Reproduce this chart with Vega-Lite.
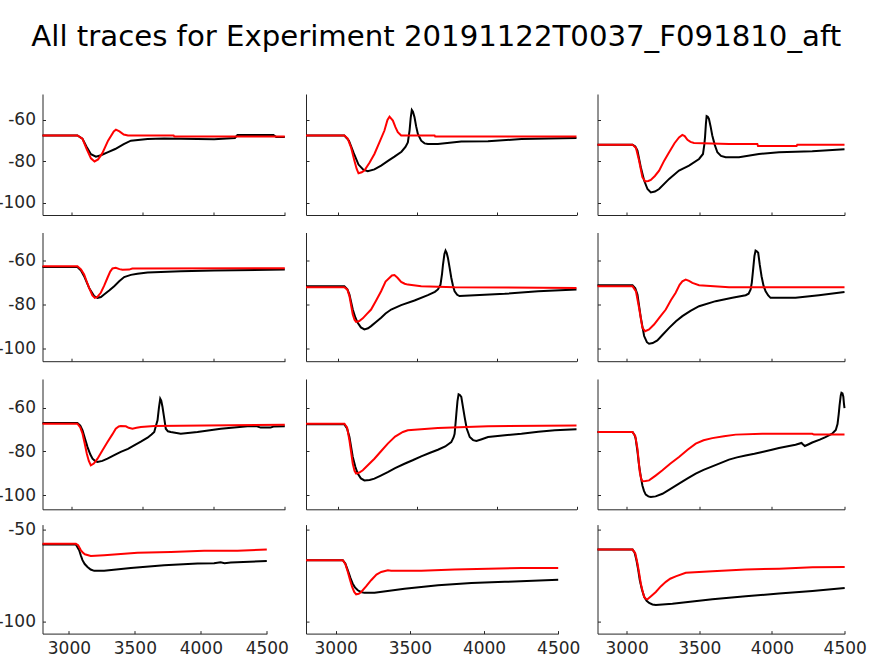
{
"$schema": "https://vega.github.io/schema/vega-lite/v6.json",
"padding": {"left": -3.5, "top": 22, "right": 0, "bottom": 0},
"background": "white",
"title": {"text": "All traces for Experiment 20191122T0037_F091810_aft", "font": "DejaVu Sans", "fontSize": 29.2, "fontWeight": "normal", "color": "#000000", "anchor": "middle", "dx": 4.6, "baseline": "alphabetic", "offset": 19.3},
"datasets": {
"p11": [
{"s":"k","t":2800,"v":-67.5},{"s":"k","t":3045,"v":-67.5},{"s":"k","t":3080,"v":-69},{"s":"k","t":3110,"v":-73},{"s":"k","t":3140,"v":-76.5},{"s":"k","t":3175,"v":-77.7},{"s":"k","t":3210,"v":-77},{"s":"k","t":3260,"v":-75.5},{"s":"k","t":3310,"v":-74},{"s":"k","t":3370,"v":-71.6},{"s":"k","t":3420,"v":-70},{"s":"k","t":3537,"v":-69.2},{"s":"k","t":3653,"v":-69},{"s":"k","t":3887,"v":-69.2},{"s":"k","t":4004,"v":-69.3},{"s":"k","t":4150,"v":-68.7},{"s":"k","t":4168,"v":-67.2},{"s":"k","t":4420,"v":-67.2},{"s":"k","t":4440,"v":-68.2},{"s":"k","t":4500,"v":-68.2},
{"s":"r","t":2800,"v":-67.5},{"s":"r","t":3045,"v":-67.5},{"s":"r","t":3080,"v":-69},{"s":"r","t":3110,"v":-74},{"s":"r","t":3140,"v":-78.5},{"s":"r","t":3165,"v":-80},{"s":"r","t":3190,"v":-79},{"s":"r","t":3220,"v":-76},{"s":"r","t":3260,"v":-70},{"s":"r","t":3300,"v":-65.5},{"s":"r","t":3315,"v":-64.7},{"s":"r","t":3340,"v":-65.5},{"s":"r","t":3370,"v":-67},{"s":"r","t":3400,"v":-67.5},{"s":"r","t":3720,"v":-67.5},{"s":"r","t":3725,"v":-68},{"s":"r","t":4500,"v":-68}
],
"p12": [
{"s":"k","t":2800,"v":-67.5},{"s":"k","t":3041,"v":-67.5},{"s":"k","t":3070,"v":-70},{"s":"k","t":3100,"v":-76},{"s":"k","t":3130,"v":-81.5},{"s":"k","t":3160,"v":-84},{"s":"k","t":3188,"v":-84.7},{"s":"k","t":3230,"v":-83.8},{"s":"k","t":3272,"v":-82},{"s":"k","t":3320,"v":-79.5},{"s":"k","t":3356,"v":-77.7},{"s":"k","t":3400,"v":-75.3},{"s":"k","t":3425,"v":-73},{"s":"k","t":3440,"v":-70.8},{"s":"k","t":3451,"v":-65},{"s":"k","t":3458,"v":-59},{"s":"k","t":3465,"v":-55.2},{"s":"k","t":3472,"v":-56},{"s":"k","t":3482,"v":-58.7},{"s":"k","t":3492,"v":-63},{"s":"k","t":3503,"v":-66.7},{"s":"k","t":3524,"v":-70},{"s":"k","t":3545,"v":-71.3},{"s":"k","t":3566,"v":-71.6},{"s":"k","t":3629,"v":-71.6},{"s":"k","t":3776,"v":-70.4},{"s":"k","t":3944,"v":-70.3},{"s":"k","t":4154,"v":-69.2},{"s":"k","t":4500,"v":-68.7},
{"s":"r","t":2800,"v":-67.5},{"s":"r","t":3041,"v":-67.5},{"s":"r","t":3062,"v":-69},{"s":"r","t":3083,"v":-73.2},{"s":"r","t":3104,"v":-79.6},{"s":"r","t":3118,"v":-83.5},{"s":"r","t":3130,"v":-85.7},{"s":"r","t":3150,"v":-85.2},{"s":"r","t":3167,"v":-84.4},{"s":"r","t":3200,"v":-80.5},{"s":"r","t":3230,"v":-76.4},{"s":"r","t":3260,"v":-71},{"s":"r","t":3293,"v":-65.1},{"s":"r","t":3312,"v":-60},{"s":"r","t":3325,"v":-58.4},{"s":"r","t":3346,"v":-60.3},{"s":"r","t":3362,"v":-63.5},{"s":"r","t":3377,"v":-65.9},{"s":"r","t":3398,"v":-67.5},{"s":"r","t":3608,"v":-67.5},{"s":"r","t":3612,"v":-68},{"s":"r","t":4500,"v":-68}
],
"p13": [
{"s":"k","t":2800,"v":-71.9},{"s":"k","t":3041,"v":-71.9},{"s":"k","t":3060,"v":-72.8},{"s":"k","t":3075,"v":-74.8},{"s":"k","t":3098,"v":-82.8},{"s":"k","t":3121,"v":-89.2},{"s":"k","t":3144,"v":-93.3},{"s":"k","t":3167,"v":-94.9},{"s":"k","t":3195,"v":-94.5},{"s":"k","t":3224,"v":-93.3},{"s":"k","t":3293,"v":-88.4},{"s":"k","t":3361,"v":-84.4},{"s":"k","t":3430,"v":-82},{"s":"k","t":3499,"v":-78.8},{"s":"k","t":3526,"v":-76.4},{"s":"k","t":3535,"v":-72},{"s":"k","t":3540,"v":-68.4},{"s":"k","t":3546,"v":-62},{"s":"k","t":3551,"v":-58.2},{"s":"k","t":3559,"v":-58.5},{"s":"k","t":3567,"v":-59.5},{"s":"k","t":3578,"v":-63},{"s":"k","t":3590,"v":-67.5},{"s":"k","t":3607,"v":-72},{"s":"k","t":3625,"v":-75.6},{"s":"k","t":3650,"v":-77.3},{"s":"k","t":3682,"v":-78},{"s":"k","t":3774,"v":-78},{"s":"k","t":3911,"v":-76.4},{"s":"k","t":4049,"v":-75.6},{"s":"k","t":4278,"v":-75.1},{"s":"k","t":4500,"v":-74.1},
{"s":"r","t":2800,"v":-71.9},{"s":"r","t":3041,"v":-71.9},{"s":"r","t":3065,"v":-73.5},{"s":"r","t":3086,"v":-79.6},{"s":"r","t":3109,"v":-87.6},{"s":"r","t":3128,"v":-89.6},{"s":"r","t":3150,"v":-89.4},{"s":"r","t":3167,"v":-88.9},{"s":"r","t":3195,"v":-87},{"s":"r","t":3224,"v":-84.4},{"s":"r","t":3260,"v":-79.5},{"s":"r","t":3293,"v":-75.6},{"s":"r","t":3330,"v":-71.2},{"s":"r","t":3361,"v":-68.4},{"s":"r","t":3384,"v":-67.2},{"s":"r","t":3400,"v":-67.8},{"s":"r","t":3419,"v":-69.6},{"s":"r","t":3440,"v":-70.6},{"s":"r","t":3464,"v":-71.1},{"s":"r","t":3705,"v":-71.6},{"s":"r","t":3900,"v":-71.6},{"s":"r","t":3905,"v":-72.6},{"s":"r","t":4170,"v":-72.6},{"s":"r","t":4175,"v":-72},{"s":"r","t":4500,"v":-72}
],
"p21": [
{"s":"k","t":2800,"v":-62.9},{"s":"k","t":3045,"v":-62.9},{"s":"k","t":3070,"v":-64.5},{"s":"k","t":3092,"v":-67.1},{"s":"k","t":3127,"v":-72.4},{"s":"k","t":3162,"v":-76.1},{"s":"k","t":3186,"v":-76.9},{"s":"k","t":3210,"v":-76.5},{"s":"k","t":3232,"v":-75.4},{"s":"k","t":3270,"v":-73.5},{"s":"k","t":3303,"v":-71.6},{"s":"k","t":3340,"v":-69.3},{"s":"k","t":3373,"v":-67.5},{"s":"k","t":3420,"v":-66.5},{"s":"k","t":3466,"v":-66},{"s":"k","t":3537,"v":-65.4},{"s":"k","t":3770,"v":-64.8},{"s":"k","t":4004,"v":-64.5},{"s":"k","t":4500,"v":-64.1},
{"s":"r","t":2800,"v":-62.6},{"s":"r","t":3045,"v":-62.6},{"s":"r","t":3070,"v":-64},{"s":"r","t":3092,"v":-66.3},{"s":"r","t":3110,"v":-69.5},{"s":"r","t":3127,"v":-72.4},{"s":"r","t":3150,"v":-75.8},{"s":"r","t":3167,"v":-76.9},{"s":"r","t":3185,"v":-76.5},{"s":"r","t":3209,"v":-74.6},{"s":"r","t":3232,"v":-71.5},{"s":"r","t":3256,"v":-67.8},{"s":"r","t":3275,"v":-65},{"s":"r","t":3291,"v":-63.6},{"s":"r","t":3314,"v":-63.3},{"s":"r","t":3340,"v":-63.9},{"s":"r","t":3361,"v":-64.2},{"s":"r","t":3408,"v":-64.1},{"s":"r","t":3430,"v":-63.6},{"s":"r","t":4500,"v":-63.5}
],
"p22": [
{"s":"k","t":2800,"v":-71.6},{"s":"k","t":3041,"v":-71.6},{"s":"k","t":3060,"v":-73},{"s":"k","t":3073,"v":-75.4},{"s":"k","t":3094,"v":-82.2},{"s":"k","t":3110,"v":-85.8},{"s":"k","t":3125,"v":-88.2},{"s":"k","t":3145,"v":-90.3},{"s":"k","t":3167,"v":-91.2},{"s":"k","t":3190,"v":-90.7},{"s":"k","t":3209,"v":-89.7},{"s":"k","t":3240,"v":-87.8},{"s":"k","t":3272,"v":-85.9},{"s":"k","t":3300,"v":-84},{"s":"k","t":3335,"v":-82.2},{"s":"k","t":3398,"v":-80.2},{"s":"k","t":3482,"v":-78.1},{"s":"k","t":3566,"v":-75.7},{"s":"k","t":3610,"v":-74.2},{"s":"k","t":3629,"v":-73.1},{"s":"k","t":3645,"v":-71},{"s":"k","t":3655,"v":-66},{"s":"k","t":3661,"v":-61.8},{"s":"k","t":3670,"v":-57},{"s":"k","t":3677,"v":-55.5},{"s":"k","t":3684,"v":-56.5},{"s":"k","t":3692,"v":-58.8},{"s":"k","t":3702,"v":-63},{"s":"k","t":3713,"v":-67.8},{"s":"k","t":3724,"v":-71.5},{"s":"k","t":3734,"v":-73.9},{"s":"k","t":3750,"v":-75.5},{"s":"k","t":3765,"v":-76.1},{"s":"k","t":3860,"v":-75.7},{"s":"k","t":4049,"v":-75.1},{"s":"k","t":4259,"v":-73.9},{"s":"k","t":4500,"v":-73.1},
{"s":"r","t":2800,"v":-72.1},{"s":"r","t":3041,"v":-72.1},{"s":"r","t":3060,"v":-73.2},{"s":"r","t":3073,"v":-76.1},{"s":"r","t":3094,"v":-84.4},{"s":"r","t":3105,"v":-86.8},{"s":"r","t":3115,"v":-87.8},{"s":"r","t":3135,"v":-87.4},{"s":"r","t":3157,"v":-86.2},{"s":"r","t":3180,"v":-84.4},{"s":"r","t":3209,"v":-82.2},{"s":"r","t":3240,"v":-78.2},{"s":"r","t":3272,"v":-73.9},{"s":"r","t":3300,"v":-69.5},{"s":"r","t":3325,"v":-67.8},{"s":"r","t":3340,"v":-66.8},{"s":"r","t":3356,"v":-66.6},{"s":"r","t":3375,"v":-67.8},{"s":"r","t":3398,"v":-69.7},{"s":"r","t":3420,"v":-70.5},{"s":"r","t":3440,"v":-70.9},{"s":"r","t":3524,"v":-71.6},{"s":"r","t":3734,"v":-72.1},{"s":"r","t":4500,"v":-72.4}
],
"p23": [
{"s":"k","t":2800,"v":-71.2},{"s":"k","t":3041,"v":-71.2},{"s":"k","t":3060,"v":-72.6},{"s":"k","t":3075,"v":-75.4},{"s":"k","t":3098,"v":-85.9},{"s":"k","t":3121,"v":-94.2},{"s":"k","t":3140,"v":-97},{"s":"k","t":3155,"v":-97.7},{"s":"k","t":3180,"v":-97.4},{"s":"k","t":3212,"v":-96.2},{"s":"k","t":3250,"v":-93.5},{"s":"k","t":3293,"v":-90.5},{"s":"k","t":3340,"v":-87.5},{"s":"k","t":3384,"v":-85.2},{"s":"k","t":3440,"v":-82.8},{"s":"k","t":3499,"v":-80.7},{"s":"k","t":3613,"v":-78.4},{"s":"k","t":3728,"v":-76.9},{"s":"k","t":3820,"v":-75.7},{"s":"k","t":3840,"v":-75},{"s":"k","t":3854,"v":-73.1},{"s":"k","t":3862,"v":-70},{"s":"k","t":3870,"v":-64.8},{"s":"k","t":3880,"v":-58},{"s":"k","t":3888,"v":-55.5},{"s":"k","t":3896,"v":-55.8},{"s":"k","t":3906,"v":-56.5},{"s":"k","t":3917,"v":-62},{"s":"k","t":3929,"v":-67.1},{"s":"k","t":3943,"v":-71.5},{"s":"k","t":3957,"v":-73.9},{"s":"k","t":3975,"v":-75.8},{"s":"k","t":3991,"v":-76.9},{"s":"k","t":4163,"v":-76.9},{"s":"k","t":4324,"v":-75.7},{"s":"k","t":4500,"v":-74.3},
{"s":"r","t":2800,"v":-71.6},{"s":"r","t":3041,"v":-71.6},{"s":"r","t":3065,"v":-74},{"s":"r","t":3086,"v":-81.4},{"s":"r","t":3109,"v":-90.5},{"s":"r","t":3128,"v":-92},{"s":"r","t":3155,"v":-91.2},{"s":"r","t":3189,"v":-89},{"s":"r","t":3230,"v":-85.5},{"s":"r","t":3270,"v":-82.2},{"s":"r","t":3305,"v":-78},{"s":"r","t":3338,"v":-74.6},{"s":"r","t":3365,"v":-71},{"s":"r","t":3384,"v":-69.4},{"s":"r","t":3407,"v":-68.6},{"s":"r","t":3430,"v":-69.2},{"s":"r","t":3453,"v":-70.1},{"s":"r","t":3499,"v":-71.2},{"s":"r","t":3705,"v":-72.1},{"s":"r","t":4500,"v":-72.1}
],
"p31": [
{"s":"k","t":2800,"v":-67},{"s":"k","t":3045,"v":-67},{"s":"k","t":3065,"v":-68.2},{"s":"k","t":3081,"v":-70.3},{"s":"k","t":3100,"v":-74.5},{"s":"k","t":3116,"v":-78},{"s":"k","t":3135,"v":-81.3},{"s":"k","t":3151,"v":-83.3},{"s":"k","t":3170,"v":-84.4},{"s":"k","t":3186,"v":-84.8},{"s":"k","t":3220,"v":-84.3},{"s":"k","t":3256,"v":-83.3},{"s":"k","t":3300,"v":-81.8},{"s":"k","t":3349,"v":-80.2},{"s":"k","t":3400,"v":-78.8},{"s":"k","t":3443,"v":-77.2},{"s":"k","t":3490,"v":-75.5},{"s":"k","t":3537,"v":-73.7},{"s":"k","t":3565,"v":-72.2},{"s":"k","t":3584,"v":-71.1},{"s":"k","t":3597,"v":-68},{"s":"k","t":3607,"v":-65.8},{"s":"k","t":3617,"v":-60},{"s":"k","t":3626,"v":-55.9},{"s":"k","t":3633,"v":-56.8},{"s":"k","t":3642,"v":-59.7},{"s":"k","t":3652,"v":-64},{"s":"k","t":3665,"v":-69.6},{"s":"k","t":3680,"v":-70.8},{"s":"k","t":3700,"v":-71.1},{"s":"k","t":3770,"v":-71.9},{"s":"k","t":3887,"v":-71.1},{"s":"k","t":4051,"v":-69.6},{"s":"k","t":4238,"v":-68.5},{"s":"k","t":4300,"v":-68.4},{"s":"k","t":4330,"v":-69.1},{"s":"k","t":4400,"v":-69.1},{"s":"k","t":4420,"v":-68.6},{"s":"k","t":4500,"v":-68.5},
{"s":"r","t":2800,"v":-67.3},{"s":"r","t":3045,"v":-67.3},{"s":"r","t":3065,"v":-69},{"s":"r","t":3081,"v":-71.9},{"s":"r","t":3095,"v":-76},{"s":"r","t":3111,"v":-81},{"s":"r","t":3125,"v":-84.3},{"s":"r","t":3139,"v":-86.3},{"s":"r","t":3160,"v":-85.5},{"s":"r","t":3186,"v":-83.3},{"s":"r","t":3220,"v":-79.5},{"s":"r","t":3256,"v":-75.7},{"s":"r","t":3290,"v":-72.2},{"s":"r","t":3314,"v":-69.6},{"s":"r","t":3335,"v":-68.6},{"s":"r","t":3349,"v":-68.4},{"s":"r","t":3385,"v":-68.5},{"s":"r","t":3405,"v":-69.2},{"s":"r","t":3431,"v":-69.6},{"s":"r","t":3460,"v":-69.2},{"s":"r","t":3490,"v":-68.8},{"s":"r","t":3584,"v":-68.4},{"s":"r","t":4500,"v":-67.8}
],
"p32": [
{"s":"k","t":2800,"v":-67.6},{"s":"k","t":3041,"v":-67.6},{"s":"k","t":3058,"v":-69.5},{"s":"k","t":3073,"v":-73.4},{"s":"k","t":3094,"v":-82.5},{"s":"k","t":3110,"v":-87},{"s":"k","t":3125,"v":-90.1},{"s":"k","t":3145,"v":-92.3},{"s":"k","t":3167,"v":-93.2},{"s":"k","t":3200,"v":-93},{"s":"k","t":3230,"v":-92.4},{"s":"k","t":3270,"v":-91},{"s":"k","t":3314,"v":-89.4},{"s":"k","t":3360,"v":-87.6},{"s":"k","t":3419,"v":-85.6},{"s":"k","t":3470,"v":-84},{"s":"k","t":3524,"v":-82.2},{"s":"k","t":3580,"v":-80.6},{"s":"k","t":3629,"v":-79.2},{"s":"k","t":3675,"v":-77.7},{"s":"k","t":3713,"v":-75.7},{"s":"k","t":3728,"v":-73.5},{"s":"k","t":3734,"v":-71.9},{"s":"k","t":3740,"v":-67},{"s":"k","t":3745,"v":-62.7},{"s":"k","t":3752,"v":-57},{"s":"k","t":3759,"v":-53.9},{"s":"k","t":3767,"v":-54.2},{"s":"k","t":3776,"v":-55.1},{"s":"k","t":3786,"v":-59.5},{"s":"k","t":3797,"v":-64.3},{"s":"k","t":3810,"v":-69.5},{"s":"k","t":3829,"v":-73.4},{"s":"k","t":3850,"v":-74.8},{"s":"k","t":3871,"v":-75.2},{"s":"k","t":3900,"v":-74.5},{"s":"k","t":3944,"v":-73.4},{"s":"k","t":4050,"v":-72.6},{"s":"k","t":4154,"v":-71.9},{"s":"k","t":4260,"v":-71},{"s":"k","t":4364,"v":-70.3},{"s":"k","t":4500,"v":-69.9},
{"s":"r","t":2800,"v":-67.3},{"s":"r","t":3041,"v":-67.3},{"s":"r","t":3058,"v":-69},{"s":"r","t":3073,"v":-74.9},{"s":"r","t":3094,"v":-85.6},{"s":"r","t":3105,"v":-88.8},{"s":"r","t":3115,"v":-90.1},{"s":"r","t":3135,"v":-89.6},{"s":"r","t":3157,"v":-88.6},{"s":"r","t":3190,"v":-86.2},{"s":"r","t":3230,"v":-83.3},{"s":"r","t":3270,"v":-80},{"s":"r","t":3314,"v":-76.4},{"s":"r","t":3360,"v":-73.2},{"s":"r","t":3409,"v":-71.1},{"s":"r","t":3440,"v":-70.3},{"s":"r","t":3629,"v":-69.3},{"s":"r","t":3944,"v":-68.5},{"s":"r","t":4500,"v":-68.1}
],
"p33": [
{"s":"k","t":2800,"v":-71.1},{"s":"k","t":3041,"v":-71.1},{"s":"k","t":3055,"v":-72.5},{"s":"k","t":3063,"v":-74.2},{"s":"k","t":3075,"v":-80},{"s":"k","t":3086,"v":-86.3},{"s":"k","t":3098,"v":-91.5},{"s":"k","t":3109,"v":-95.5},{"s":"k","t":3120,"v":-98},{"s":"k","t":3132,"v":-99.7},{"s":"k","t":3150,"v":-100.5},{"s":"k","t":3167,"v":-100.8},{"s":"k","t":3200,"v":-100.5},{"s":"k","t":3247,"v":-99.3},{"s":"k","t":3300,"v":-97.2},{"s":"k","t":3361,"v":-94.7},{"s":"k","t":3420,"v":-92.3},{"s":"k","t":3476,"v":-90.1},{"s":"k","t":3530,"v":-88.4},{"s":"k","t":3590,"v":-86.8},{"s":"k","t":3650,"v":-85.2},{"s":"k","t":3705,"v":-83.7},{"s":"k","t":3760,"v":-82.7},{"s":"k","t":3819,"v":-81.8},{"s":"k","t":3880,"v":-81},{"s":"k","t":3934,"v":-80.2},{"s":"k","t":4000,"v":-79.2},{"s":"k","t":4049,"v":-78.4},{"s":"k","t":4110,"v":-77.6},{"s":"k","t":4163,"v":-76.9},{"s":"k","t":4204,"v":-76.1},{"s":"k","t":4215,"v":-76.8},{"s":"k","t":4227,"v":-77.5},{"s":"k","t":4250,"v":-76.8},{"s":"k","t":4278,"v":-75.9},{"s":"k","t":4330,"v":-74.6},{"s":"k","t":4369,"v":-73.4},{"s":"k","t":4415,"v":-71.9},{"s":"k","t":4440,"v":-70.2},{"s":"k","t":4452,"v":-67.5},{"s":"k","t":4460,"v":-63},{"s":"k","t":4466,"v":-58.9},{"s":"k","t":4474,"v":-54.5},{"s":"k","t":4479,"v":-53.2},{"s":"k","t":4486,"v":-53.5},{"s":"k","t":4492,"v":-55},{"s":"k","t":4496,"v":-58},{"s":"k","t":4500,"v":-60.2},
{"s":"r","t":2800,"v":-71.1},{"s":"r","t":3041,"v":-71.1},{"s":"r","t":3060,"v":-73},{"s":"r","t":3075,"v":-78.7},{"s":"r","t":3091,"v":-89.4},{"s":"r","t":3100,"v":-92.3},{"s":"r","t":3109,"v":-93.6},{"s":"r","t":3130,"v":-93.5},{"s":"r","t":3155,"v":-93.2},{"s":"r","t":3200,"v":-91},{"s":"r","t":3247,"v":-88.6},{"s":"r","t":3300,"v":-85.6},{"s":"r","t":3361,"v":-82.5},{"s":"r","t":3420,"v":-79.2},{"s":"r","t":3476,"v":-76.4},{"s":"r","t":3530,"v":-74.9},{"s":"r","t":3590,"v":-73.9},{"s":"r","t":3670,"v":-73},{"s":"r","t":3751,"v":-72.3},{"s":"r","t":3934,"v":-71.9},{"s":"r","t":4278,"v":-71.9},{"s":"r","t":4290,"v":-72.3},{"s":"r","t":4500,"v":-72.3}
],
"p41": [
{"s":"k","t":2800,"v":-58.2},{"s":"k","t":3053,"v":-58.2},{"s":"k","t":3078,"v":-61.3},{"s":"k","t":3090,"v":-64},{"s":"k","t":3103,"v":-66.7},{"s":"k","t":3120,"v":-68.8},{"s":"k","t":3141,"v":-70.4},{"s":"k","t":3165,"v":-71.8},{"s":"k","t":3192,"v":-72.5},{"s":"k","t":3267,"v":-72.5},{"s":"k","t":3469,"v":-70.9},{"s":"k","t":3722,"v":-69.5},{"s":"k","t":3975,"v":-68.5},{"s":"k","t":4100,"v":-68.3},{"s":"k","t":4150,"v":-67.8},{"s":"k","t":4180,"v":-68.3},{"s":"k","t":4227,"v":-68},{"s":"k","t":4500,"v":-67.1},
{"s":"r","t":2800,"v":-57.8},{"s":"r","t":3053,"v":-57.8},{"s":"r","t":3070,"v":-58.5},{"s":"r","t":3091,"v":-61.3},{"s":"r","t":3105,"v":-62.5},{"s":"r","t":3121,"v":-63.5},{"s":"r","t":3166,"v":-64.4},{"s":"r","t":3267,"v":-64},{"s":"r","t":3520,"v":-62.7},{"s":"r","t":3773,"v":-62.2},{"s":"r","t":4025,"v":-61.6},{"s":"r","t":4278,"v":-61.6},{"s":"r","t":4500,"v":-60.9}
],
"p42": [
{"s":"k","t":2800,"v":-66.7},{"s":"k","t":3048,"v":-66.7},{"s":"k","t":3065,"v":-68.5},{"s":"k","t":3082,"v":-72.2},{"s":"k","t":3100,"v":-76.5},{"s":"k","t":3115,"v":-79.5},{"s":"k","t":3130,"v":-81.5},{"s":"k","t":3149,"v":-83.1},{"s":"k","t":3170,"v":-84},{"s":"k","t":3194,"v":-84.5},{"s":"k","t":3262,"v":-84.5},{"s":"k","t":3464,"v":-82.2},{"s":"k","t":3690,"v":-80.4},{"s":"k","t":3915,"v":-79.1},{"s":"k","t":4140,"v":-78.5},{"s":"k","t":4500,"v":-77.3},
{"s":"r","t":2800,"v":-66.7},{"s":"r","t":3048,"v":-66.7},{"s":"r","t":3065,"v":-68.8},{"s":"r","t":3082,"v":-73.1},{"s":"r","t":3097,"v":-77.5},{"s":"r","t":3111,"v":-81.3},{"s":"r","t":3125,"v":-84},{"s":"r","t":3138,"v":-85.3},{"s":"r","t":3155,"v":-85},{"s":"r","t":3172,"v":-84},{"s":"r","t":3205,"v":-81},{"s":"r","t":3239,"v":-77.6},{"s":"r","t":3275,"v":-74.5},{"s":"r","t":3307,"v":-73.1},{"s":"r","t":3352,"v":-72.2},{"s":"r","t":3374,"v":-72.5},{"s":"r","t":3577,"v":-72.5},{"s":"r","t":3802,"v":-71.8},{"s":"r","t":4027,"v":-71.3},{"s":"r","t":4253,"v":-70.9},{"s":"r","t":4500,"v":-70.9}
],
"p43": [
{"s":"k","t":2800,"v":-60.9},{"s":"k","t":3041,"v":-60.9},{"s":"k","t":3055,"v":-62.5},{"s":"k","t":3068,"v":-66.7},{"s":"k","t":3080,"v":-72},{"s":"k","t":3091,"v":-77.6},{"s":"k","t":3105,"v":-82.5},{"s":"k","t":3121,"v":-86.7},{"s":"k","t":3138,"v":-88.8},{"s":"k","t":3155,"v":-90},{"s":"k","t":3178,"v":-90.8},{"s":"k","t":3201,"v":-91.1},{"s":"k","t":3315,"v":-90.4},{"s":"k","t":3590,"v":-88},{"s":"k","t":3819,"v":-86.4},{"s":"k","t":4049,"v":-84.9},{"s":"k","t":4278,"v":-83.5},{"s":"k","t":4500,"v":-81.8},
{"s":"r","t":2800,"v":-60.9},{"s":"r","t":3041,"v":-60.9},{"s":"r","t":3060,"v":-63},{"s":"r","t":3075,"v":-68.5},{"s":"r","t":3087,"v":-74},{"s":"r","t":3098,"v":-79.5},{"s":"r","t":3110,"v":-83.5},{"s":"r","t":3121,"v":-86.7},{"s":"r","t":3133,"v":-87.8},{"s":"r","t":3144,"v":-88},{"s":"r","t":3170,"v":-86.2},{"s":"r","t":3201,"v":-84},{"s":"r","t":3235,"v":-81},{"s":"r","t":3270,"v":-78.5},{"s":"r","t":3300,"v":-76.8},{"s":"r","t":3338,"v":-75.5},{"s":"r","t":3407,"v":-73.6},{"s":"r","t":3590,"v":-72.7},{"s":"r","t":3819,"v":-71.8},{"s":"r","t":4049,"v":-71.3},{"s":"r","t":4278,"v":-70.5},{"s":"r","t":4500,"v":-70.4}
]
},
"spacing": 9.6,
"resolve": {"scale": {"x": "independent", "y": "independent"}},
"vconcat": [
{"spacing": 16.5, "resolve": {"scale": {"x": "independent", "y": "independent"}}, "vconcat": [
{"bounds": "flush", "spacing": 20.5, "resolve": {"scale": {"x": "independent", "y": "independent"}}, "hconcat": [
 {"data": {"name": "p11"}, "width": 242.3, "height": 121, "mark": {"type": "line", "strokeWidth": 2}, "encoding": {
  "x": {"field": "t", "type": "quantitative", "scale": {"domain": [2800, 4500], "nice": false, "zero": false}, "axis": {"values": [3000, 3500, 4000, 4500], "labels": false, "title": null}},
  "y": {"field": "v", "type": "quantitative", "scale": {"domain": [-105.8, -47.5], "nice": false, "zero": false}, "axis": {"values": [-100, -80, -60], "labelExpr": "toString(datum.value)", "title": null}},
  "color": {"field": "s", "type": "nominal", "scale": {"domain": ["k", "r"], "range": ["#000000", "#ff0000"]}, "legend": null}}},
 {"data": {"name": "p12"}, "width": 270.5, "height": 121, "mark": {"type": "line", "strokeWidth": 2}, "encoding": {
  "x": {"field": "t", "type": "quantitative", "scale": {"domain": [2800, 4500], "nice": false, "zero": false}, "axis": {"values": [3000, 3500, 4000, 4500], "labels": false, "title": null}},
  "y": {"field": "v", "type": "quantitative", "scale": {"domain": [-105.8, -47.5], "nice": false, "zero": false}, "axis": {"values": [-100, -80, -60], "labels": false, "title": null}},
  "color": {"field": "s", "type": "nominal", "scale": {"domain": ["k", "r"], "range": ["#000000", "#ff0000"]}, "legend": null}}},
 {"data": {"name": "p13"}, "width": 247, "height": 121, "mark": {"type": "line", "strokeWidth": 2}, "encoding": {
  "x": {"field": "t", "type": "quantitative", "scale": {"domain": [2800, 4500], "nice": false, "zero": false}, "axis": {"values": [3000, 3500, 4000, 4500], "labels": false, "title": null}},
  "y": {"field": "v", "type": "quantitative", "scale": {"domain": [-105.8, -47.5], "nice": false, "zero": false}, "axis": {"values": [-100, -80, -60], "labels": false, "title": null}},
  "color": {"field": "s", "type": "nominal", "scale": {"domain": ["k", "r"], "range": ["#000000", "#ff0000"]}, "legend": null}}}
]},
{"bounds": "flush", "spacing": 20.5, "resolve": {"scale": {"x": "independent", "y": "independent"}}, "hconcat": [
 {"data": {"name": "p21"}, "width": 242.3, "height": 128.7, "mark": {"type": "line", "strokeWidth": 2}, "encoding": {
  "x": {"field": "t", "type": "quantitative", "scale": {"domain": [2800, 4500], "nice": false, "zero": false}, "axis": {"values": [3000, 3500, 4000, 4500], "labels": false, "title": null}},
  "y": {"field": "v", "type": "quantitative", "scale": {"domain": [-105.6, -47.3], "nice": false, "zero": false}, "axis": {"values": [-100, -80, -60], "labelExpr": "toString(datum.value)", "title": null}},
  "color": {"field": "s", "type": "nominal", "scale": {"domain": ["k", "r"], "range": ["#000000", "#ff0000"]}, "legend": null}}},
 {"data": {"name": "p22"}, "width": 270.5, "height": 128.7, "mark": {"type": "line", "strokeWidth": 2}, "encoding": {
  "x": {"field": "t", "type": "quantitative", "scale": {"domain": [2800, 4500], "nice": false, "zero": false}, "axis": {"values": [3000, 3500, 4000, 4500], "labels": false, "title": null}},
  "y": {"field": "v", "type": "quantitative", "scale": {"domain": [-105.6, -47.3], "nice": false, "zero": false}, "axis": {"values": [-100, -80, -60], "labels": false, "title": null}},
  "color": {"field": "s", "type": "nominal", "scale": {"domain": ["k", "r"], "range": ["#000000", "#ff0000"]}, "legend": null}}},
 {"data": {"name": "p23"}, "width": 247, "height": 128.7, "mark": {"type": "line", "strokeWidth": 2}, "encoding": {
  "x": {"field": "t", "type": "quantitative", "scale": {"domain": [2800, 4500], "nice": false, "zero": false}, "axis": {"values": [3000, 3500, 4000, 4500], "labels": false, "title": null}},
  "y": {"field": "v", "type": "quantitative", "scale": {"domain": [-105.6, -47.3], "nice": false, "zero": false}, "axis": {"values": [-100, -80, -60], "labels": false, "title": null}},
  "color": {"field": "s", "type": "nominal", "scale": {"domain": ["k", "r"], "range": ["#000000", "#ff0000"]}, "legend": null}}}
]},
{"bounds": "flush", "spacing": 20.5, "resolve": {"scale": {"x": "independent", "y": "independent"}}, "hconcat": [
 {"data": {"name": "p31"}, "width": 242.3, "height": 130.3, "mark": {"type": "line", "strokeWidth": 2}, "encoding": {
  "x": {"field": "t", "type": "quantitative", "scale": {"domain": [2800, 4500], "nice": false, "zero": false}, "axis": {"values": [3000, 3500, 4000, 4500], "labels": false, "title": null}},
  "y": {"field": "v", "type": "quantitative", "scale": {"domain": [-106.4, -46.9], "nice": false, "zero": false}, "axis": {"values": [-100, -80, -60], "labelExpr": "toString(datum.value)", "title": null}},
  "color": {"field": "s", "type": "nominal", "scale": {"domain": ["k", "r"], "range": ["#000000", "#ff0000"]}, "legend": null}}},
 {"data": {"name": "p32"}, "width": 270.5, "height": 130.3, "mark": {"type": "line", "strokeWidth": 2}, "encoding": {
  "x": {"field": "t", "type": "quantitative", "scale": {"domain": [2800, 4500], "nice": false, "zero": false}, "axis": {"values": [3000, 3500, 4000, 4500], "labels": false, "title": null}},
  "y": {"field": "v", "type": "quantitative", "scale": {"domain": [-106.4, -46.9], "nice": false, "zero": false}, "axis": {"values": [-100, -80, -60], "labels": false, "title": null}},
  "color": {"field": "s", "type": "nominal", "scale": {"domain": ["k", "r"], "range": ["#000000", "#ff0000"]}, "legend": null}}},
 {"data": {"name": "p33"}, "width": 247, "height": 130.3, "mark": {"type": "line", "strokeWidth": 2}, "encoding": {
  "x": {"field": "t", "type": "quantitative", "scale": {"domain": [2800, 4500], "nice": false, "zero": false}, "axis": {"values": [3000, 3500, 4000, 4500], "labels": false, "title": null}},
  "y": {"field": "v", "type": "quantitative", "scale": {"domain": [-106.4, -46.9], "nice": false, "zero": false}, "axis": {"values": [-100, -80, -60], "labels": false, "title": null}},
  "color": {"field": "s", "type": "nominal", "scale": {"domain": ["k", "r"], "range": ["#000000", "#ff0000"]}, "legend": null}}}
]}
]},
{"bounds": "flush", "spacing": 38.5, "resolve": {"scale": {"x": "independent", "y": "independent"}}, "hconcat": [
 {"data": {"name": "p41"}, "width": 224.3, "height": 109, "mark": {"type": "line", "strokeWidth": 2}, "encoding": {
  "x": {"field": "t", "type": "quantitative", "scale": {"domain": [2800, 4500], "nice": false, "zero": false}, "axis": {"values": [3000, 3500, 4000, 4500], "format": "d", "title": null}},
  "y": {"field": "v", "type": "quantitative", "scale": {"domain": [-106.7, -47.3], "nice": false, "zero": false}, "axis": {"values": [-100, -50], "labelExpr": "toString(datum.value)", "title": null}},
  "color": {"field": "s", "type": "nominal", "scale": {"domain": ["k", "r"], "range": ["#000000", "#ff0000"]}, "legend": null}}},
 {"data": {"name": "p42"}, "width": 252.2, "height": 109, "mark": {"type": "line", "strokeWidth": 2}, "encoding": {
  "x": {"field": "t", "type": "quantitative", "scale": {"domain": [2800, 4500], "nice": false, "zero": false}, "axis": {"values": [3000, 3500, 4000, 4500], "format": "d", "title": null}},
  "y": {"field": "v", "type": "quantitative", "scale": {"domain": [-106.7, -47.3], "nice": false, "zero": false}, "axis": {"values": [-100, -50], "labels": false, "title": null}},
  "color": {"field": "s", "type": "nominal", "scale": {"domain": ["k", "r"], "range": ["#000000", "#ff0000"]}, "legend": null}}},
 {"data": {"name": "p43"}, "width": 247.2, "height": 109, "mark": {"type": "line", "strokeWidth": 2}, "encoding": {
  "x": {"field": "t", "type": "quantitative", "scale": {"domain": [2800, 4500], "nice": false, "zero": false}, "axis": {"values": [3000, 3500, 4000, 4500], "format": "d", "title": null}},
  "y": {"field": "v", "type": "quantitative", "scale": {"domain": [-106.7, -47.3], "nice": false, "zero": false}, "axis": {"values": [-100, -50], "labels": false, "title": null}},
  "color": {"field": "s", "type": "nominal", "scale": {"domain": ["k", "r"], "range": ["#000000", "#ff0000"]}, "legend": null}}}
]}
],
"config": {
 "view": {"stroke": null},
 "axis": {"grid": false, "domainColor": "#262626", "domainWidth": 1, "tickColor": "#262626", "tickWidth": 1, "tickSize": -3, "labelColor": "#262626", "labelFont": "DejaVu Sans", "labelFontSize": 17, "labelPadding": 10, "labelOverlap": false, "labelBound": false, "labelFlush": false}
}
}
